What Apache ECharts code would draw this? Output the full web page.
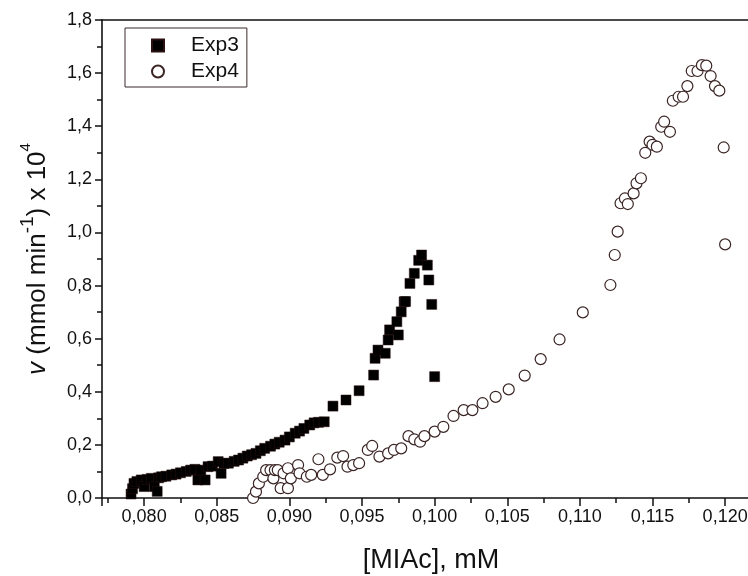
<!DOCTYPE html>
<html><head><meta charset="utf-8">
<script src="https://cdn.jsdelivr.net/npm/echarts@6/dist/echarts.min.js"></script>
<style>html,body{margin:0;padding:0;background:#fff}#c{width:748px;height:576px}</style>
</head><body><div id="c"></div>
<script>
// ---- data ----
const seriesNames = ['Exp3', 'Exp4'];
const exp3X = [0.0791,0.0792,0.0793,0.0795,0.0798,0.0800,0.0802,0.0805,0.0807,0.0809,0.0810,0.0812,0.0815,0.0819,0.0822,0.0825,0.0829,0.0832,0.0835,0.0837,0.0839,0.0842,0.0844,0.0847,0.0851,0.0853,0.0855,0.0858,0.0862,0.0865,0.0868,0.0871,0.0874,0.0877,0.0880,0.0883,0.0887,0.0890,0.0893,0.0897,0.0900,0.0904,0.0907,0.0910,0.0914,0.0917,0.0920,0.0924,0.0930,0.0939,0.0948,0.0958,0.0959,0.0961,0.0966,0.0968,0.0969,0.0974,0.0975,0.0977,0.0979,0.0980,0.0983,0.0986,0.0989,0.0991,0.0995,0.0996,0.0998,0.1000];
const exp3Y = [0.015,0.035,0.055,0.062,0.068,0.043,0.070,0.074,0.043,0.025,0.076,0.080,0.082,0.087,0.090,0.095,0.100,0.105,0.108,0.068,0.105,0.068,0.118,0.120,0.137,0.093,0.130,0.131,0.138,0.143,0.150,0.158,0.163,0.168,0.178,0.187,0.195,0.203,0.210,0.218,0.230,0.244,0.252,0.262,0.275,0.283,0.285,0.287,0.346,0.369,0.404,0.463,0.526,0.557,0.545,0.595,0.633,0.664,0.614,0.701,0.739,0.740,0.808,0.846,0.895,0.915,0.877,0.821,0.729,0.457];
const exp4X = [0.0875,0.0877,0.0879,0.0882,0.0884,0.0887,0.0889,0.0890,0.0892,0.0894,0.0896,0.0899,0.0899,0.0901,0.0906,0.0907,0.0912,0.0915,0.0920,0.0923,0.0928,0.0933,0.0937,0.0940,0.0944,0.0948,0.0954,0.0957,0.0962,0.0968,0.0972,0.0977,0.0982,0.0986,0.0990,0.0993,0.1000,0.1006,0.1013,0.1020,0.1026,0.1033,0.1042,0.1051,0.1062,0.1073,0.1086,0.1102,0.1121,0.1124,0.1126,0.1128,0.1131,0.1133,0.1137,0.1139,0.1142,0.1145,0.1148,0.1150,0.1153,0.1156,0.1158,0.1162,0.1164,0.1168,0.1171,0.1174,0.1177,0.1181,0.1184,0.1187,0.1190,0.1193,0.1196,0.1199,0.1200];
const exp4Y = [0.000,0.024,0.055,0.080,0.105,0.105,0.074,0.105,0.105,0.037,0.093,0.037,0.112,0.074,0.124,0.093,0.080,0.087,0.146,0.087,0.108,0.152,0.158,0.118,0.124,0.131,0.181,0.196,0.156,0.168,0.181,0.187,0.233,0.221,0.212,0.233,0.250,0.268,0.309,0.331,0.331,0.357,0.381,0.409,0.461,0.523,0.597,0.699,0.802,0.915,1.003,1.110,1.128,1.107,1.147,1.185,1.204,1.300,1.342,1.330,1.323,1.398,1.417,1.379,1.496,1.511,1.511,1.551,1.608,1.608,1.630,1.628,1.589,1.551,1.534,1.320,0.955];
const xTickValues = [0.080,0.085,0.090,0.095,0.100,0.105,0.110,0.115,0.120];
const xTickLabels = ['0,080','0,085','0,090','0,095','0,100','0,105','0,110','0,115','0,120'];
const yTickValues = [0.0,0.2,0.4,0.6,0.8,1.0,1.2,1.4,1.6,1.8];
const yTickLabels = ['0,0','0,2','0,4','0,6','0,8','1,0','1,2','1,4','1,6','1,8'];
const xName = '[MIAc], mM';
const yName = '{i|v}{n| (mmol min}{s|-1}{n|) x 10}{t|4}';

// ---- chart ----
const FONT = 'Liberation Sans, Arial, Helvetica, sans-serif';
function lookup(vals, labels, v) {
  for (let i = 0; i < vals.length; i++) if (Math.abs(vals[i] - v) < 1e-7) return labels[i];
  return '';
}
const pairs = (xs, ys) => xs.map((x, i) => [x, ys[i]]);
const chart = echarts.init(document.getElementById('c'), null, {renderer: 'canvas'});
const axisLine = {show: true, lineStyle: {color: '#111', width: 1.6}};
chart.setOption({
  animation: false,
  backgroundColor: '#fff',
  grid: {left: 102, top: 20, width: 658, bottom: 78, containLabel: false, outerBoundsMode: 'none'},
  legend: {
    orient: 'vertical', left: 125, top: 28,
    padding: [7, 8, 5, 26], itemGap: 5,
    itemWidth: 12, itemHeight: 12,
    borderColor: '#3a2a2a', borderWidth: 1, backgroundColor: '#fff',
    textStyle: {fontFamily: FONT, fontSize: 21, color: '#111', padding: [0, 0, 0, 22]},
    data: seriesNames
  },
  xAxis: [{
    type: 'value', min: 0.0771, max: 0.1224, splitNumber: 9,
    axisLine: axisLine,
    axisTick: {show: true, length: 8, lineStyle: {color: '#111', width: 1.5}},
    minorTick: {show: true, splitNumber: 2, length: 5, lineStyle: {color: '#111', width: 1.5}},
    splitLine: {show: false},
    axisLabel: {showMinLabel: false, showMaxLabel: false, margin: 10, fontFamily: FONT, fontSize: 18, color: '#111',
      formatter: v => lookup(xTickValues, xTickLabels, v)},
    name: xName, nameLocation: 'middle', nameGap: 49,
    nameTextStyle: {fontFamily: FONT, fontSize: 27, color: '#111'}
  }, {
    type: 'value', min: 0.0771, max: 0.1224, position: 'top',
    axisLine: axisLine, axisTick: {show: false}, axisLabel: {show: false}, splitLine: {show: false}
  }],
  yAxis: {
    type: 'value', min: 0, max: 1.8, interval: 0.2,
    axisLine: axisLine,
    axisTick: {show: true, length: 7, lineStyle: {color: '#111', width: 1.5}},
    minorTick: {show: true, splitNumber: 2, length: 5, lineStyle: {color: '#111', width: 1.5}},
    splitLine: {show: false},
    axisLabel: {margin: 10, fontFamily: FONT, fontSize: 18, color: '#111',
      formatter: v => lookup(yTickValues, yTickLabels, v)},
    name: yName, nameLocation: 'middle', nameGap: 44,
    nameTextStyle: {fontFamily: FONT, fontSize: 26, color: '#111',
      rich: {
        i: {fontFamily: FONT, fontSize: 26, fontStyle: 'italic', color: '#111', lineHeight: 40, verticalAlign: 'middle'},
        n: {fontFamily: FONT, fontSize: 26, color: '#111', lineHeight: 40, verticalAlign: 'middle'},
        s: {fontFamily: FONT, fontSize: 19, color: '#111', lineHeight: 19, verticalAlign: 'top'},
        t: {fontFamily: FONT, fontSize: 15, color: '#111', lineHeight: 19, verticalAlign: 'top'}
      }}
  },
  series: [{
    name: 'Exp3', type: 'scatter', symbol: 'rect', symbolSize: 10,
    itemStyle: {color: '#000', borderColor: '#2a1010', borderWidth: 0.5, opacity: 1},
    data: pairs(exp3X, exp3Y)
  }, {
    name: 'Exp4', type: 'scatter', symbol: 'circle', symbolSize: 11,
    itemStyle: {color: '#fff', borderColor: '#3a2424', borderWidth: 1.2, opacity: 1},
    data: pairs(exp4X, exp4Y)
  }]
});
</script></body></html>
